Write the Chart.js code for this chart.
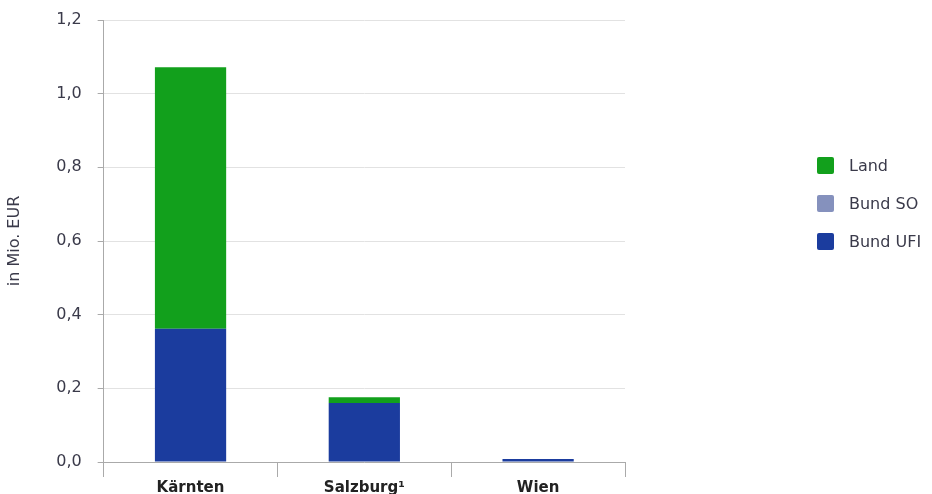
<!DOCTYPE html>
<html lang="de">
<head>
    <meta charset="UTF-8">
    <title>Förderungen in Mio. EUR</title>
    <script src="https://cdn.jsdelivr.net/npm/chart.js"></script>
    <style>
        body { margin: 0; background: #fff; }
        #wrap { position: relative; width: 932px; height: 494px; }
        #legend { position: absolute; left: 817px; top: 156px; font-family: 'DejaVu Sans', sans-serif; font-size: 16px; color: #3a3a4a; }
        #legend div { height: 38px; display: flex; align-items: flex-start; }
        #legend span.box { width: 17px; height: 17px; border-radius: 2px; margin-right: 15px; margin-top: 1px; }
    </style>
</head>
<body>
<div id="wrap">
    <canvas id="myChart" width="932" height="494"></canvas>
    <div id="legend"></div>
</div>
<script>
    // Bundesländer und Beträge (Mio. EUR)
    const laender = ['Kärnten', 'Salzburg¹', 'Wien'];
    const bundUFI = [0.362, 0.160, 0.008];
    const bundSO = [0, 0, 0];
    const land = [0.71, 0.016, 0];
    const yTicks = [0, 0.2, 0.4, 0.6, 0.8, 1.0, 1.2];

    const farben = { land: '#12a01c', so: '#8591bd', ufi: '#1b3c9e' };

    const ctx = document.getElementById('myChart').getContext('2d');
    const myChart = new Chart(ctx, {
        type: 'bar',
        data: {
            labels: laender,
            datasets: [
                { label: 'Bund UFI', data: bundUFI, backgroundColor: farben.ufi },
                { label: 'Bund SO', data: bundSO, backgroundColor: farben.so },
                { label: 'Land', data: land, backgroundColor: farben.land }
            ]
        },
        options: {
            responsive: false,
            animation: false,
            layout: { padding: { top: 0, right: 307, left: 5, bottom: 0 } },
            datasets: { bar: { barPercentage: 0.41, categoryPercentage: 1 } },
            plugins: { legend: { display: false }, tooltip: { enabled: false } },
            scales: {
                x: {
                    stacked: true,
                    afterFit: axis => { axis.height = 32; },
                    border: { color: '#aaaaaa' },
                    grid: {
                        offset: true,
                        drawOnChartArea: true,
                        color: c => c.index === laender.length ? '#aaaaaa' : 'rgba(0,0,0,0)',
                        tickColor: '#aaaaaa',
                        tickLength: 15
                    },
                    ticks: {
                        color: '#222',
                        font: { family: 'DejaVu Sans', size: 15, weight: 'bold', lineHeight: '11px' },
                        padding: 6
                    }
                },
                y: {
                    stacked: true,
                    min: 0,
                    max: 1.2,
                    afterBuildTicks: axis => { axis.ticks = yTicks.map(v => ({ value: v })); },
                    // Platz oben nur für die halbe Beschriftungshöhe
                    afterFit: axis => { axis.paddingTop = 20; axis.paddingBottom = 10; },
                    border: { color: '#aaaaaa' },
                    grid: { color: '#e2e2e2', tickColor: '#aaaaaa', tickLength: 6 },
                    ticks: {
                        color: '#3a3a4a',
                        font: { family: 'DejaVu Sans', size: 16 },
                        padding: 16,
                        callback: v => v.toFixed(1).replace('.', ',')
                    },
                    title: {
                        display: true,
                        text: 'in Mio. EUR',
                        color: '#3a3a4a',
                        font: { family: 'DejaVu Sans', size: 16 },
                        padding: { top: 0, bottom: 16 }
                    }
                }
            }
        }
    });

    // Legende rechts, Reihenfolge von oben: Land, Bund SO, Bund UFI
    const legend = document.getElementById('legend');
    myChart.data.datasets.slice().reverse().forEach(ds => {
        const row = document.createElement('div');
        row.innerHTML = '<span class="box" style="background:' + ds.backgroundColor + '"></span>' + ds.label;
        legend.appendChild(row);
    });
</script>
</body>
</html>
